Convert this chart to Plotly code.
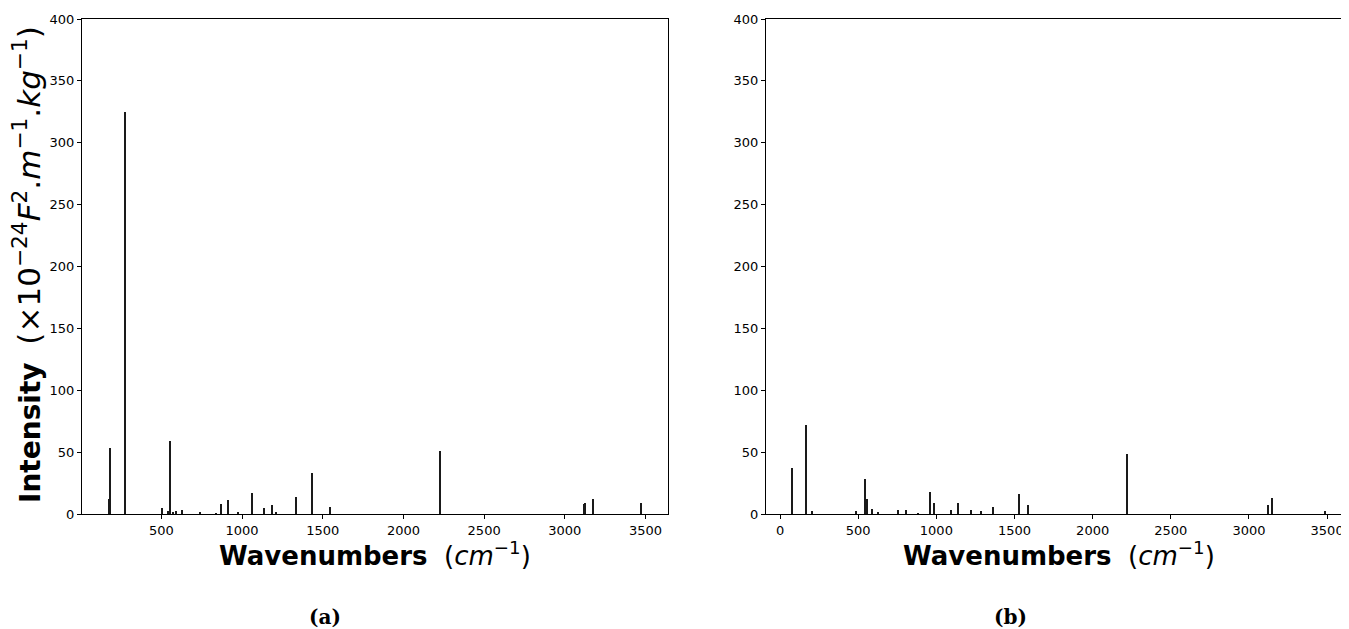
import plotly.graph_objects as go

# ---- data ----
wn_a = [179, 186, 278, 503, 541, 553, 574, 590, 629, 739, 838, 873, 916, 976,
        1061, 1135, 1189, 1209, 1337, 1436, 1545, 2230, 3121, 3127, 3175, 3474]
int_a = [11.9, 53, 325, 4.6, 2.4, 59.2, 1.4, 2.4, 3, 1.6, 0.8, 7.8, 11, 1.6,
         16.7, 4.6, 7.3, 1.6, 14, 32.9, 5.9, 50.6, 8.3, 8.9, 11.9, 8.6]

wn_b = [79, 164, 205, 486, 542, 557, 587, 625, 753, 806, 883, 962, 983, 1096,
        1139, 1220, 1284, 1363, 1528, 1590, 2220, 3120, 3146, 3487]
int_b = [36.9, 71.9, 2.4, 2.2, 28.3, 12.4, 4, 1.6, 3, 3.2, 0.8, 17.5, 8.9, 3.2,
         8.6, 3, 2.4, 5.7, 16.2, 7.3, 48.2, 7.5, 12.9, 2.2]

x_ticks_a = [500, 1000, 1500, 2000, 2500, 3000, 3500]
x_ticks_b = [0, 500, 1000, 1500, 2000, 2500, 3000, 3500]
y_ticks = [0, 50, 100, 150, 200, 250, 300, 350, 400]

# page body has an 8px margin: the figure is drawn from (8, 8)
OFF = 8
W, H = 1349 - OFF, 629 - OFF
BAR = "#1a1a1a"
FONT = "DejaVu Sans"


def px(x):
    return (x - OFF) / W


def py(y):
    return 1 - (y - OFF) / H


fig = go.Figure()
fig.add_trace(go.Bar(x=wn_a, y=int_a, width=8, marker=dict(color=BAR, line=dict(width=0)),
                     xaxis="x", yaxis="y", showlegend=False))
fig.add_trace(go.Bar(x=wn_b, y=int_b, width=8, marker=dict(color=BAR, line=dict(width=0)),
                     xaxis="x2", yaxis="y2", showlegend=False))

ydom = [py(514), py(19)]
axis_common = dict(showgrid=False, zeroline=False, showline=True, linecolor="black",
                   linewidth=1, ticks="outside", ticklen=4, tickcolor="black",
                   automargin=False,
                   tickfont=dict(family=FONT, size=13, color="black"))

fig.update_layout(
    width=W, height=H,
    margin=dict(l=0, r=0, t=0, b=0, autoexpand=False),
    paper_bgcolor="white", plot_bgcolor="white",
    bargap=0,
    xaxis=dict(domain=[px(82), px(668)], range=[8.7, 3639], tickvals=x_ticks_a,
               mirror=True, anchor="y", **axis_common),
    yaxis=dict(domain=ydom, range=[0, 400], tickvals=y_ticks, mirror=True,
               anchor="x", **axis_common),
    xaxis2=dict(domain=[px(766), 1.0], range=[-90, 3640], tickvals=x_ticks_b,
                mirror=True, anchor="y2", **axis_common),
    yaxis2=dict(domain=ydom, range=[0, 400], tickvals=y_ticks, mirror=False,
                anchor="x2", **axis_common),
)

xt = "<b>Wavenumbers</b>  (<i>cm</i><sup>−1</sup>)"
yt = ("<b>Intensity</b>  <span style=\"font-size:31px\">(×10<sup>−24</sup><i>F</i><sup>2</sup>"
      ".<i>m</i><sup>−1</sup>.<i>kg</i><sup>−1</sup>)</span>")

annos = [
    dict(text=xt, x=px(375), y=py(554), xref="paper", yref="paper",
         showarrow=False, font=dict(family=FONT, size=26, color="black"),
         xanchor="center", yanchor="middle"),
    dict(text=xt, x=px(1059), y=py(554), xref="paper", yref="paper",
         showarrow=False, font=dict(family=FONT, size=26, color="black"),
         xanchor="center", yanchor="middle"),
    dict(text=yt, x=px(27), y=py(265), xref="paper", yref="paper",
         showarrow=False, textangle=-90, font=dict(family=FONT, size=28, color="black"),
         xanchor="center", yanchor="middle"),
    dict(text="<b>(a)</b>", x=px(325), y=py(617), xref="paper", yref="paper",
         showarrow=False, font=dict(family="DejaVu Serif", size=20, color="black"),
         xanchor="center", yanchor="middle"),
    dict(text="<b>(b)</b>", x=px(1010), y=py(617), xref="paper", yref="paper",
         showarrow=False, font=dict(family="DejaVu Serif", size=20, color="black"),
         xanchor="center", yanchor="middle"),
]
fig.update_layout(annotations=annos)

fig.write_html("out.html")
